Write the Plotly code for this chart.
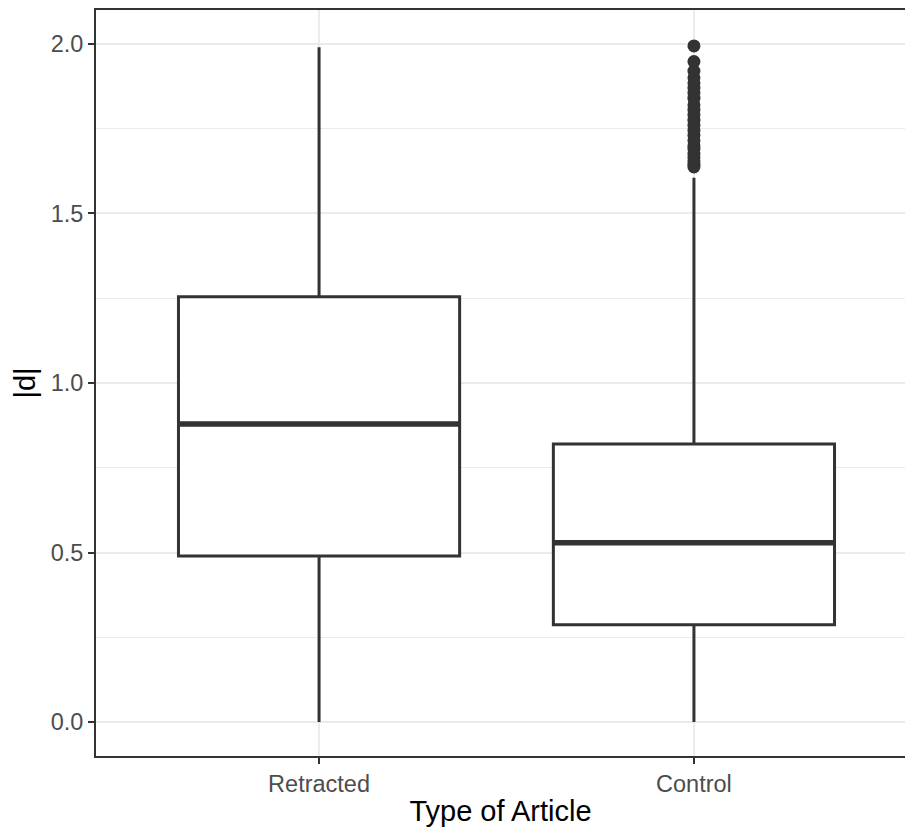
import plotly.graph_objects as go

categories = ["Retracted", "Control"]
q1 = [0.49, 0.287]
median = [0.879, 0.529]
q3 = [1.254, 0.82]
lower_fence = [0.0, 0.0]
upper_fence = [1.99, 1.605]
control_outliers = [1.637, 1.645, 1.655, 1.665, 1.675, 1.69, 1.70, 1.715, 1.73, 1.745,
                    1.76, 1.775, 1.79, 1.805, 1.82, 1.84, 1.855, 1.87, 1.885, 1.90,
                    1.92, 1.948, 1.994]
y_ticks = [0.0, 0.5, 1.0, 1.5, 2.0]
y_tick_labels = ["0.0", "0.5", "1.0", "1.5", "2.0"]
y_minor = [0.25, 0.75, 1.25, 1.75]

positions = [i + 1 for i in range(len(categories))]
box_w = 0.75
dark = "#333333"

fig = go.Figure()
for i, cat in enumerate(categories):
    fig.add_trace(go.Box(
        x=[positions[i]], q1=[q1[i]], median=[median[i]], q3=[q3[i]],
        lowerfence=[lower_fence[i]], upperfence=[upper_fence[i]],
        width=box_w, whiskerwidth=0, fillcolor="white",
        line=dict(color=dark, width=3), boxpoints=False,
        name=cat, showlegend=False, hoverinfo="skip"))
    fig.add_trace(go.Scatter(
        x=[positions[i] - box_w / 2, positions[i] + box_w / 2],
        y=[median[i], median[i]], mode="lines",
        line=dict(color=dark, width=5.5), showlegend=False, hoverinfo="skip"))

fig.add_trace(go.Scatter(
    x=[positions[1]] * len(control_outliers), y=control_outliers, mode="markers",
    marker=dict(color=dark, size=13), showlegend=False, hoverinfo="skip"))

fig.update_layout(
    width=905, height=828,
    margin=dict(l=96, r=0, t=10, b=72),
    plot_bgcolor="white", paper_bgcolor="white",
    font=dict(family="Liberation Sans, Arial, sans-serif"),
)
fig.update_xaxes(
    automargin=False,
    range=[0.405, 2.563], tickvals=positions, ticktext=categories,
    showgrid=True, gridcolor="#EBEBEB", gridwidth=2,
    showline=True, linecolor=dark, linewidth=2, mirror=True,
    ticks="outside", ticklen=6, tickwidth=2, tickcolor=dark,
    tickfont=dict(size=23.5, color="#4D4D4D"),
    title=dict(text="Type of Article", font=dict(size=29, color="black"), standoff=4),
    zeroline=False,
)
fig.update_yaxes(
    automargin=False,
    range=[-0.1, 2.1], tickvals=y_ticks, ticktext=y_tick_labels,
    showgrid=True, gridcolor="#EBEBEB", gridwidth=2,
    minor=dict(tickvals=y_minor, showgrid=True, gridcolor="#EBEBEB", gridwidth=1),
    showline=True, linecolor=dark, linewidth=2, mirror=False,
    ticks="outside", ticklen=6, tickwidth=2, tickcolor=dark,
    tickfont=dict(size=23.5, color="#4D4D4D"),
    title=dict(text="|d|", font=dict(size=29, color="black"), standoff=6),
    zeroline=False,
)

fig.write_html("out.html",
               config={"displayModeBar": False},
               post_script="document.body.style.margin='0';document.body.style.overflow='hidden';")
